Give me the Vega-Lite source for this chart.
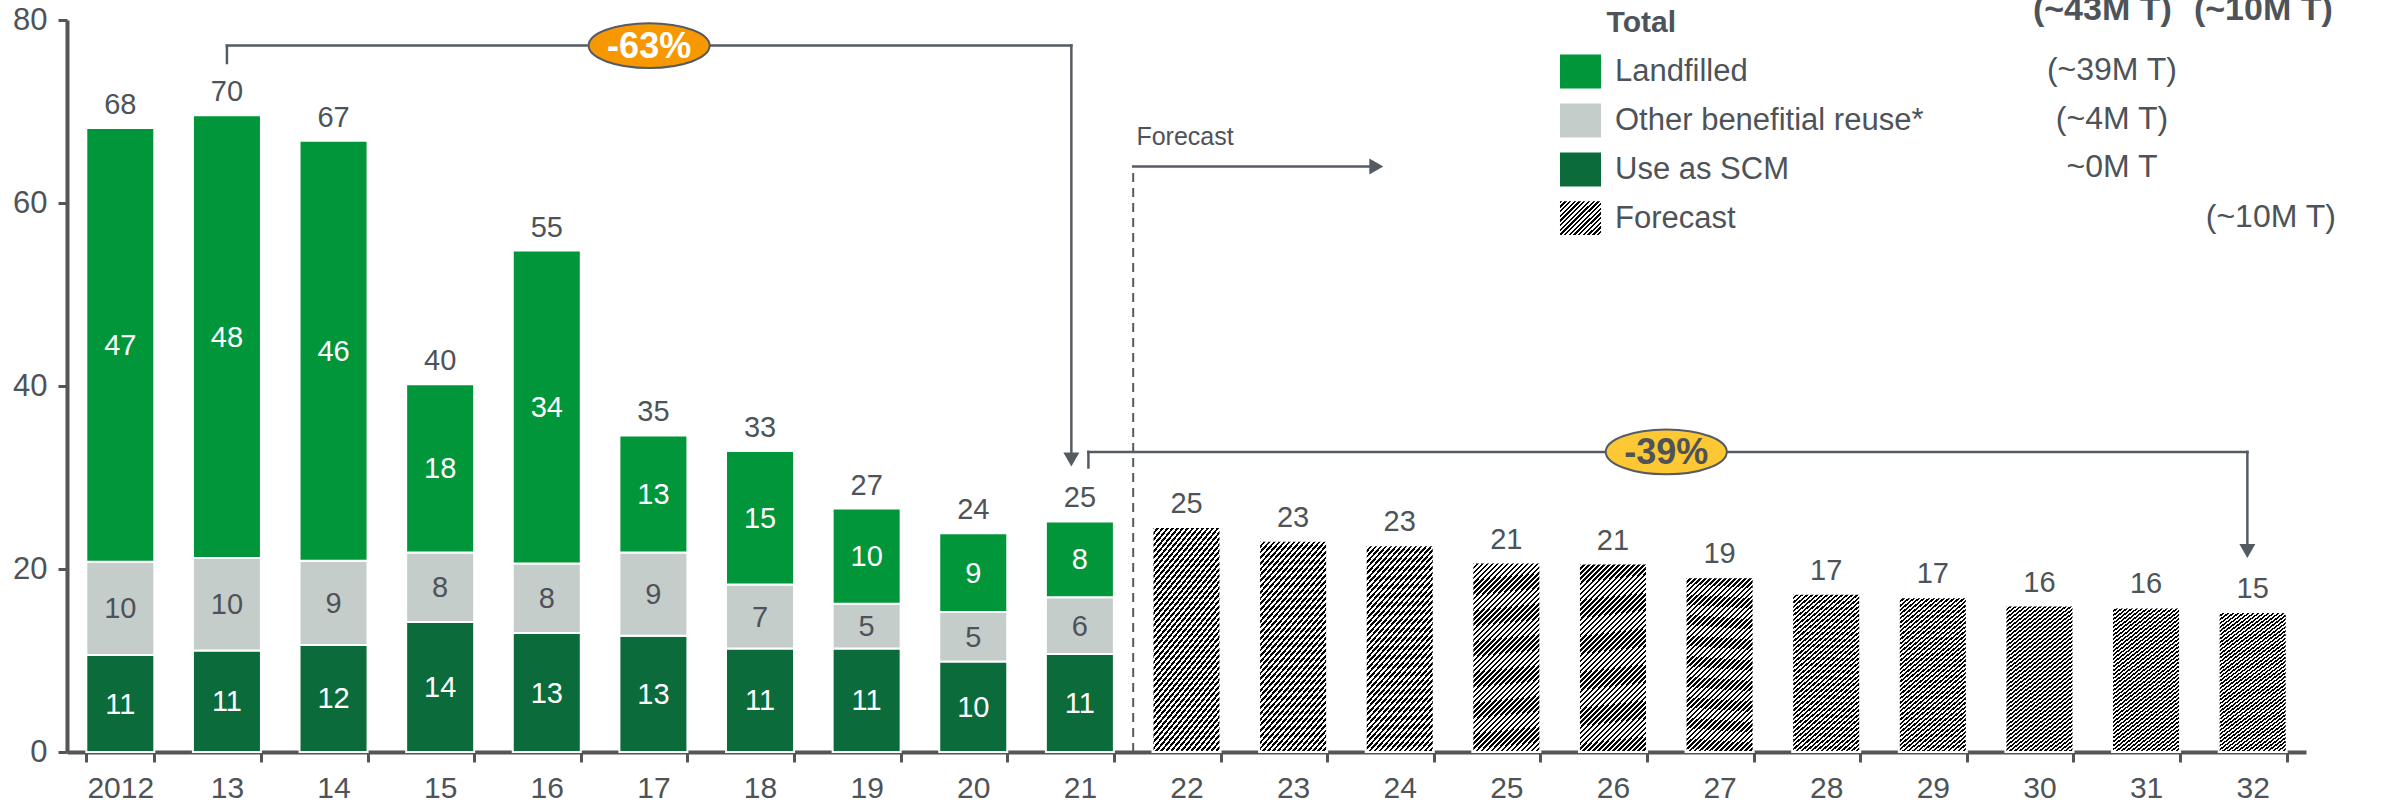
{
  "$schema": "https://vega.github.io/schema/vega-lite/v6.json",
  "width": 2239,
  "height": 732,
  "autosize": {"type": "none"},
  "padding": {"left": 67, "top": 20, "right": 76, "bottom": 60},
  "background": "white",
  "config": {"view": {"stroke": null}, "font": "Liberation Sans"},
  "datasets": {
    "parts": [
      {"year": "2012", "category": "Use as SCM", "value": 10.6},
      {"year": "2012", "category": "Other benefitial reuse*", "value": 10.2},
      {"year": "2012", "category": "Landfilled", "value": 47.4},
      {"year": "13", "category": "Use as SCM", "value": 11.1},
      {"year": "13", "category": "Other benefitial reuse*", "value": 10.1},
      {"year": "13", "category": "Landfilled", "value": 48.4},
      {"year": "14", "category": "Use as SCM", "value": 11.7},
      {"year": "14", "category": "Other benefitial reuse*", "value": 9.2},
      {"year": "14", "category": "Landfilled", "value": 45.9},
      {"year": "15", "category": "Use as SCM", "value": 14.2},
      {"year": "15", "category": "Other benefitial reuse*", "value": 7.6},
      {"year": "15", "category": "Landfilled", "value": 18.4},
      {"year": "16", "category": "Use as SCM", "value": 13.0},
      {"year": "16", "category": "Other benefitial reuse*", "value": 7.6},
      {"year": "16", "category": "Landfilled", "value": 34.2},
      {"year": "17", "category": "Use as SCM", "value": 12.7},
      {"year": "17", "category": "Other benefitial reuse*", "value": 9.1},
      {"year": "17", "category": "Landfilled", "value": 12.8},
      {"year": "18", "category": "Use as SCM", "value": 11.3},
      {"year": "18", "category": "Other benefitial reuse*", "value": 7.0},
      {"year": "18", "category": "Landfilled", "value": 14.6},
      {"year": "19", "category": "Use as SCM", "value": 11.3},
      {"year": "19", "category": "Other benefitial reuse*", "value": 4.9},
      {"year": "19", "category": "Landfilled", "value": 10.4},
      {"year": "20", "category": "Use as SCM", "value": 9.9},
      {"year": "20", "category": "Other benefitial reuse*", "value": 5.4},
      {"year": "20", "category": "Landfilled", "value": 8.6},
      {"year": "21", "category": "Use as SCM", "value": 10.7},
      {"year": "21", "category": "Other benefitial reuse*", "value": 6.2},
      {"year": "21", "category": "Landfilled", "value": 8.3},
      {"year": "22", "category": "Forecast", "value": 24.6},
      {"year": "23", "category": "Forecast", "value": 23.1},
      {"year": "24", "category": "Forecast", "value": 22.6},
      {"year": "25", "category": "Forecast", "value": 20.7},
      {"year": "26", "category": "Forecast", "value": 20.6},
      {"year": "27", "category": "Forecast", "value": 19.1},
      {"year": "28", "category": "Forecast", "value": 17.3},
      {"year": "29", "category": "Forecast", "value": 16.9},
      {"year": "30", "category": "Forecast", "value": 16.0},
      {"year": "31", "category": "Forecast", "value": 15.8},
      {"year": "32", "category": "Forecast", "value": 15.3}
    ],
    "segments": [
      {"x": 1.5, "x2": 1.5, "y": 75.3, "y2": 77.2},
      {"x": 1.5, "x2": 9.42, "y": 77.2, "y2": 77.2},
      {"x": 9.42, "x2": 9.42, "y": 77.2, "y2": 31.97},
      {"x": 9.58, "x2": 9.58, "y": 31.1, "y2": 32.8},
      {"x": 9.58, "x2": 20.45, "y": 32.8, "y2": 32.8},
      {"x": 20.45, "x2": 20.45, "y": 32.8, "y2": 21.97},
      {"x": 10, "x2": 12.28, "y": 64, "y2": 64}
    ],
    "divider": [{"x": 10, "y": 0, "y2": 64}],
    "heads": [
      {"x": 9.42, "y": 31.97, "dir": "down"},
      {"x": 20.45, "y": 21.97, "dir": "down"},
      {"x": 12.28, "y": 64, "dir": "right"}
    ],
    "badges": [
      {"x": 5.46, "y": 77.2, "label": "-63%"},
      {"x": 15.0, "y": 32.8, "label": "-39%"}
    ],
    "forecastNote": [{"x": 10.03, "y": 66.3, "text": "Forecast"}],
    "forecastKey": [{"x": 14.003, "x2": 14.388, "y": 56.5, "y2": 60.2}],
    "notes": [
      {"x": 19.18, "y": 74.54, "text": "(~39M T)"},
      {"x": 19.18, "y": 69.23, "text": "(~4M T)"},
      {"x": 19.18, "y": 63.93, "text": "~0M T"},
      {"x": 20.67, "y": 58.47, "text": "(~10M T)"}
    ],
    "header": [
      {"x": 19.09, "y": 80.0, "text": "(~43M T)"},
      {"x": 20.6, "y": 80.0, "text": "(~10M T)"}
    ],
    "totalTitle": [{"x": 14.44, "y": 78.7, "text": "Total"}]
  },
  "layer": [
    {
      "data": {"name": "parts"},
      "transform": [
        {"calculate": "indexof(['Use as SCM','Other benefitial reuse*','Landfilled','Forecast'], datum.category)", "as": "rank"},
        {"stack": "value", "groupby": ["year"], "sort": [{"field": "rank", "order": "ascending"}], "as": ["v0", "v1"]},
        {"calculate": "(datum.v0 + datum.v1) / 2", "as": "mid"}
      ],
      "encoding": {
        "x": {
          "field": "year", "type": "nominal",
          "scale": {"domain": ["2012","13","14","15","16","17","18","19","20","21","22","23","24","25","26","27","28","29","30","31","32"], "paddingInner": 0.362, "paddingOuter": 0.181},
          "axis": {"title": null, "orient": "bottom", "labelAngle": 0, "tickBand": "extent", "tickExtra": true, "tickOpacity": 1, "domainColor": "#555555", "domainWidth": 4, "ticks": true, "tickColor": "#555555", "tickWidth": 3, "tickSize": 10, "labelFontSize": 30, "labelColor": "#4d5358", "labelPadding": 11, "labelFont": "Liberation Sans"}
        }
      },
      "layer": [
        {
          "mark": {"type": "bar", "stroke": "white", "strokeWidth": 2},
          "encoding": {
            "y": {"field": "v0", "type": "quantitative", "scale": {"domain": [0, 80], "nice": false},
              "axis": {"title": null, "orient": "left", "values": [0, 20, 40, 60, 80], "grid": false, "domainColor": "#555555", "domainWidth": 4, "ticks": true, "tickColor": "#555555", "tickWidth": 3, "tickSize": 9, "labelFontSize": 31, "labelColor": "#4d5358", "labelPadding": 11, "labelFont": "Liberation Sans"}},
            "y2": {"field": "v1"},
            "color": {
              "condition": {"test": "datum.category === 'Forecast'", "value": {"gradient": "linear", "x1": 0, "y1": 0, "x2": 0.444, "y2": 1.2, "stops": [
                {"offset":0,"color":"#000"},
                {"offset":0.01,"color":"#000"},{"offset":0.01,"color":"#fff"},
                {"offset":0.02,"color":"#fff"},{"offset":0.02,"color":"#000"},
                {"offset":0.03,"color":"#000"},{"offset":0.03,"color":"#fff"},
                {"offset":0.04,"color":"#fff"},{"offset":0.04,"color":"#000"},
                {"offset":0.05,"color":"#000"},{"offset":0.05,"color":"#fff"},
                {"offset":0.06,"color":"#fff"},{"offset":0.06,"color":"#000"},
                {"offset":0.07,"color":"#000"},{"offset":0.07,"color":"#fff"},
                {"offset":0.08,"color":"#fff"},{"offset":0.08,"color":"#000"},
                {"offset":0.09,"color":"#000"},{"offset":0.09,"color":"#fff"},
                {"offset":0.1,"color":"#fff"},{"offset":0.1,"color":"#000"},
                {"offset":0.11,"color":"#000"},{"offset":0.11,"color":"#fff"},
                {"offset":0.12,"color":"#fff"},{"offset":0.12,"color":"#000"},
                {"offset":0.13,"color":"#000"},{"offset":0.13,"color":"#fff"},
                {"offset":0.14,"color":"#fff"},{"offset":0.14,"color":"#000"},
                {"offset":0.15,"color":"#000"},{"offset":0.15,"color":"#fff"},
                {"offset":0.16,"color":"#fff"},{"offset":0.16,"color":"#000"},
                {"offset":0.17,"color":"#000"},{"offset":0.17,"color":"#fff"},
                {"offset":0.18,"color":"#fff"},{"offset":0.18,"color":"#000"},
                {"offset":0.19,"color":"#000"},{"offset":0.19,"color":"#fff"},
                {"offset":0.2,"color":"#fff"},{"offset":0.2,"color":"#000"},
                {"offset":0.21,"color":"#000"},{"offset":0.21,"color":"#fff"},
                {"offset":0.22,"color":"#fff"},{"offset":0.22,"color":"#000"},
                {"offset":0.23,"color":"#000"},{"offset":0.23,"color":"#fff"},
                {"offset":0.24,"color":"#fff"},{"offset":0.24,"color":"#000"},
                {"offset":0.25,"color":"#000"},{"offset":0.25,"color":"#fff"},
                {"offset":0.26,"color":"#fff"},{"offset":0.26,"color":"#000"},
                {"offset":0.27,"color":"#000"},{"offset":0.27,"color":"#fff"},
                {"offset":0.28,"color":"#fff"},{"offset":0.28,"color":"#000"},
                {"offset":0.29,"color":"#000"},{"offset":0.29,"color":"#fff"},
                {"offset":0.3,"color":"#fff"},{"offset":0.3,"color":"#000"},
                {"offset":0.31,"color":"#000"},{"offset":0.31,"color":"#fff"},
                {"offset":0.32,"color":"#fff"},{"offset":0.32,"color":"#000"},
                {"offset":0.33,"color":"#000"},{"offset":0.33,"color":"#fff"},
                {"offset":0.34,"color":"#fff"},{"offset":0.34,"color":"#000"},
                {"offset":0.35,"color":"#000"},{"offset":0.35,"color":"#fff"},
                {"offset":0.36,"color":"#fff"},{"offset":0.36,"color":"#000"},
                {"offset":0.37,"color":"#000"},{"offset":0.37,"color":"#fff"},
                {"offset":0.38,"color":"#fff"},{"offset":0.38,"color":"#000"},
                {"offset":0.39,"color":"#000"},{"offset":0.39,"color":"#fff"},
                {"offset":0.4,"color":"#fff"},{"offset":0.4,"color":"#000"},
                {"offset":0.41,"color":"#000"},{"offset":0.41,"color":"#fff"},
                {"offset":0.42,"color":"#fff"},{"offset":0.42,"color":"#000"},
                {"offset":0.43,"color":"#000"},{"offset":0.43,"color":"#fff"},
                {"offset":0.44,"color":"#fff"},{"offset":0.44,"color":"#000"},
                {"offset":0.45,"color":"#000"},{"offset":0.45,"color":"#fff"},
                {"offset":0.46,"color":"#fff"},{"offset":0.46,"color":"#000"},
                {"offset":0.47,"color":"#000"},{"offset":0.47,"color":"#fff"},
                {"offset":0.48,"color":"#fff"},{"offset":0.48,"color":"#000"},
                {"offset":0.49,"color":"#000"},{"offset":0.49,"color":"#fff"},
                {"offset":0.5,"color":"#fff"},{"offset":0.5,"color":"#000"},
                {"offset":0.51,"color":"#000"},{"offset":0.51,"color":"#fff"},
                {"offset":0.52,"color":"#fff"},{"offset":0.52,"color":"#000"},
                {"offset":0.53,"color":"#000"},{"offset":0.53,"color":"#fff"},
                {"offset":0.54,"color":"#fff"},{"offset":0.54,"color":"#000"},
                {"offset":0.55,"color":"#000"},{"offset":0.55,"color":"#fff"},
                {"offset":0.56,"color":"#fff"},{"offset":0.56,"color":"#000"},
                {"offset":0.57,"color":"#000"},{"offset":0.57,"color":"#fff"},
                {"offset":0.58,"color":"#fff"},{"offset":0.58,"color":"#000"},
                {"offset":0.59,"color":"#000"},{"offset":0.59,"color":"#fff"},
                {"offset":0.6,"color":"#fff"},{"offset":0.6,"color":"#000"},
                {"offset":0.61,"color":"#000"},{"offset":0.61,"color":"#fff"},
                {"offset":0.62,"color":"#fff"},{"offset":0.62,"color":"#000"},
                {"offset":0.63,"color":"#000"},{"offset":0.63,"color":"#fff"},
                {"offset":0.64,"color":"#fff"},{"offset":0.64,"color":"#000"},
                {"offset":0.65,"color":"#000"},{"offset":0.65,"color":"#fff"},
                {"offset":0.66,"color":"#fff"},{"offset":0.66,"color":"#000"},
                {"offset":0.67,"color":"#000"},{"offset":0.67,"color":"#fff"},
                {"offset":0.68,"color":"#fff"},{"offset":0.68,"color":"#000"},
                {"offset":0.69,"color":"#000"},{"offset":0.69,"color":"#fff"},
                {"offset":0.7,"color":"#fff"},{"offset":0.7,"color":"#000"},
                {"offset":0.71,"color":"#000"},{"offset":0.71,"color":"#fff"},
                {"offset":0.72,"color":"#fff"},{"offset":0.72,"color":"#000"},
                {"offset":0.73,"color":"#000"},{"offset":0.73,"color":"#fff"},
                {"offset":0.74,"color":"#fff"},{"offset":0.74,"color":"#000"},
                {"offset":0.75,"color":"#000"},{"offset":0.75,"color":"#fff"},
                {"offset":0.76,"color":"#fff"},{"offset":0.76,"color":"#000"},
                {"offset":0.77,"color":"#000"},{"offset":0.77,"color":"#fff"},
                {"offset":0.78,"color":"#fff"},{"offset":0.78,"color":"#000"},
                {"offset":0.79,"color":"#000"},{"offset":0.79,"color":"#fff"},
                {"offset":0.8,"color":"#fff"},{"offset":0.8,"color":"#000"},
                {"offset":0.81,"color":"#000"},{"offset":0.81,"color":"#fff"},
                {"offset":0.82,"color":"#fff"},{"offset":0.82,"color":"#000"},
                {"offset":0.83,"color":"#000"},{"offset":0.83,"color":"#fff"},
                {"offset":0.84,"color":"#fff"},{"offset":0.84,"color":"#000"},
                {"offset":0.85,"color":"#000"},{"offset":0.85,"color":"#fff"},
                {"offset":0.86,"color":"#fff"},{"offset":0.86,"color":"#000"},
                {"offset":0.87,"color":"#000"},{"offset":0.87,"color":"#fff"},
                {"offset":0.88,"color":"#fff"},{"offset":0.88,"color":"#000"},
                {"offset":0.89,"color":"#000"},{"offset":0.89,"color":"#fff"},
                {"offset":0.9,"color":"#fff"},{"offset":0.9,"color":"#000"},
                {"offset":0.91,"color":"#000"},{"offset":0.91,"color":"#fff"},
                {"offset":0.92,"color":"#fff"},{"offset":0.92,"color":"#000"},
                {"offset":0.93,"color":"#000"},{"offset":0.93,"color":"#fff"},
                {"offset":0.94,"color":"#fff"},{"offset":0.94,"color":"#000"},
                {"offset":0.95,"color":"#000"},{"offset":0.95,"color":"#fff"},
                {"offset":0.96,"color":"#fff"},{"offset":0.96,"color":"#000"},
                {"offset":0.97,"color":"#000"},{"offset":0.97,"color":"#fff"},
                {"offset":0.98,"color":"#fff"},{"offset":0.98,"color":"#000"},
                {"offset":0.99,"color":"#000"},{"offset":0.99,"color":"#fff"},
                {"offset":1,"color":"#fff"}
              ]}},
              "field": "category", "type": "nominal",
              "scale": {"domain": ["Landfilled", "Other benefitial reuse*", "Use as SCM", "Forecast"], "range": ["#009639", "#c5cdca", "#0b6b3a", "transparent"]},
              "legend": {
                "orient": "none", "legendX": 1493, "legendY": 31, "title": null, "padding": 0,
                "symbolType": "M-1,-0.83H1V0.83H-1Z", "symbolSize": 1681, "symbolStrokeWidth": 0, "symbolOpacity": 1,
                "labelFontSize": 31, "labelColor": "#4d5358", "labelFont": "Liberation Sans", "labelOffset": 14, "labelLimit": 800,
                "rowPadding": 11
              }
            }
          }
        },
        {
          "transform": [{"filter": "datum.category !== 'Forecast'"}],
          "mark": {"type": "text", "fontSize": 29, "baseline": "middle", "dy": 1},
          "encoding": {
            "y": {"field": "mid", "type": "quantitative", "scale": {"domain": [0, 80], "nice": false},
              "axis": {"title": null, "orient": "left", "values": [0, 20, 40, 60, 80], "grid": false, "domainColor": "#555555", "domainWidth": 4, "ticks": true, "tickColor": "#555555", "tickWidth": 3, "tickSize": 9, "labelFontSize": 31, "labelColor": "#4d5358", "labelPadding": 11, "labelFont": "Liberation Sans"}},
            "text": {"field": "value", "type": "quantitative", "format": ".0f"},
            "color": {"condition": {"test": "datum.category === 'Other benefitial reuse*'", "value": "#4d5358"}, "value": "#ffffff"}
          }
        },
        {
          "transform": [{"aggregate": [{"op": "sum", "field": "value", "as": "total"}], "groupby": ["year"]}],
          "mark": {"type": "text", "fontSize": 29, "baseline": "alphabetic", "dy": -14, "color": "#4d5358"},
          "encoding": {
            "y": {"field": "total", "type": "quantitative", "scale": {"domain": [0, 80], "nice": false},
              "axis": {"title": null, "orient": "left", "values": [0, 20, 40, 60, 80], "grid": false, "domainColor": "#555555", "domainWidth": 4, "ticks": true, "tickColor": "#555555", "tickWidth": 3, "tickSize": 9, "labelFontSize": 31, "labelColor": "#4d5358", "labelPadding": 11, "labelFont": "Liberation Sans"}},
            "text": {"field": "total", "type": "quantitative", "format": ".0f"}
          }
        }
      ]
    },
    {
      "encoding": {
        "x": {"field": "x", "type": "quantitative", "scale": {"domain": [0, 21], "nice": false, "zero": false},
          "axis": {"orient": "top", "domain": false, "ticks": false, "labels": false, "grid": false, "title": null}},
        "y": {"field": "y", "type": "quantitative", "scale": {"domain": [0, 80], "nice": false},
          "axis": {"title": null, "orient": "left", "values": [0, 20, 40, 60, 80], "grid": false, "domainColor": "#555555", "domainWidth": 4, "ticks": true, "tickColor": "#555555", "tickWidth": 3, "tickSize": 9, "labelFontSize": 31, "labelColor": "#4d5358", "labelPadding": 11, "labelFont": "Liberation Sans"}}
      },
      "layer": [
        {
          "data": {"name": "divider"},
          "mark": {"type": "rule", "color": "#555b62", "strokeWidth": 2, "strokeDash": [9, 6]},
          "encoding": {"y2": {"field": "y2"}}
        },
        {
          "data": {"name": "segments"},
          "mark": {"type": "rule", "color": "#555b62", "strokeWidth": 2.5, "strokeCap": "square"},
          "encoding": {"x2": {"field": "x2"}, "y2": {"field": "y2"}}
        },
        {
          "data": {"name": "heads"},
          "mark": {"type": "point", "filled": true, "opacity": 1, "size": 256, "color": "#555b62", "strokeWidth": 0},
          "encoding": {
            "shape": {"condition": {"test": "datum.dir === 'right'", "value": "M-0.875,-1L0.875,0L-0.875,1Z"}, "value": "M-1,-0.875L1,-0.875L0,0.875Z"}
          }
        },
        {
          "data": {"name": "badges"},
          "mark": {"type": "point", "filled": true, "opacity": 1, "size": 14641, "stroke": "#555b62", "strokeWidth": 2,
            "shape": "M-1,0C-1,-0.204,-0.552,-0.37,0,-0.37C0.552,-0.37,1,-0.204,1,0C1,0.204,0.552,0.37,0,0.37C-0.552,0.37,-1,0.204,-1,0Z"},
          "encoding": {
            "fill": {"condition": {"test": "datum.label === '-63%'", "value": "#f89800"}, "value": "#fec834"}
          }
        },
        {
          "data": {"name": "badges"},
          "mark": {"type": "text", "fontSize": 36, "fontWeight": "bold", "baseline": "middle", "align": "center", "dy": 1},
          "encoding": {
            "text": {"field": "label"},
            "color": {"condition": {"test": "datum.label === '-63%'", "value": "#ffffff"}, "value": "#4d5358"}
          }
        },
        {
          "data": {"name": "forecastKey"},
          "mark": {"type": "rect", "fill": {"gradient": "linear", "x1": 0, "y1": 0, "x2": 1.083, "y2": 0.9, "stops": [
                    {"offset":0,"color":"#000"},
                    {"offset":0.03125,"color":"#000"},{"offset":0.03125,"color":"#fff"},
                    {"offset":0.0625,"color":"#fff"},{"offset":0.0625,"color":"#000"},
                    {"offset":0.09375,"color":"#000"},{"offset":0.09375,"color":"#fff"},
                    {"offset":0.125,"color":"#fff"},{"offset":0.125,"color":"#000"},
                    {"offset":0.15625,"color":"#000"},{"offset":0.15625,"color":"#fff"},
                    {"offset":0.1875,"color":"#fff"},{"offset":0.1875,"color":"#000"},
                    {"offset":0.21875,"color":"#000"},{"offset":0.21875,"color":"#fff"},
                    {"offset":0.25,"color":"#fff"},{"offset":0.25,"color":"#000"},
                    {"offset":0.28125,"color":"#000"},{"offset":0.28125,"color":"#fff"},
                    {"offset":0.3125,"color":"#fff"},{"offset":0.3125,"color":"#000"},
                    {"offset":0.34375,"color":"#000"},{"offset":0.34375,"color":"#fff"},
                    {"offset":0.375,"color":"#fff"},{"offset":0.375,"color":"#000"},
                    {"offset":0.40625,"color":"#000"},{"offset":0.40625,"color":"#fff"},
                    {"offset":0.4375,"color":"#fff"},{"offset":0.4375,"color":"#000"},
                    {"offset":0.46875,"color":"#000"},{"offset":0.46875,"color":"#fff"},
                    {"offset":0.5,"color":"#fff"},{"offset":0.5,"color":"#000"},
                    {"offset":0.53125,"color":"#000"},{"offset":0.53125,"color":"#fff"},
                    {"offset":0.5625,"color":"#fff"},{"offset":0.5625,"color":"#000"},
                    {"offset":0.59375,"color":"#000"},{"offset":0.59375,"color":"#fff"},
                    {"offset":0.625,"color":"#fff"},{"offset":0.625,"color":"#000"},
                    {"offset":0.65625,"color":"#000"},{"offset":0.65625,"color":"#fff"},
                    {"offset":0.6875,"color":"#fff"},{"offset":0.6875,"color":"#000"},
                    {"offset":0.71875,"color":"#000"},{"offset":0.71875,"color":"#fff"},
                    {"offset":0.75,"color":"#fff"},{"offset":0.75,"color":"#000"},
                    {"offset":0.78125,"color":"#000"},{"offset":0.78125,"color":"#fff"},
                    {"offset":0.8125,"color":"#fff"},{"offset":0.8125,"color":"#000"},
                    {"offset":0.84375,"color":"#000"},{"offset":0.84375,"color":"#fff"},
                    {"offset":0.875,"color":"#fff"},{"offset":0.875,"color":"#000"},
                    {"offset":0.90625,"color":"#000"},{"offset":0.90625,"color":"#fff"},
                    {"offset":0.9375,"color":"#fff"},{"offset":0.9375,"color":"#000"},
                    {"offset":0.96875,"color":"#000"},{"offset":0.96875,"color":"#fff"},
                    {"offset":1,"color":"#fff"}
                  ]}},
          "encoding": {"x2": {"field": "x2"}, "y2": {"field": "y2"}}
        },
        {
          "data": {"name": "forecastNote"},
          "mark": {"type": "text", "fontSize": 25, "baseline": "alphabetic", "align": "left", "color": "#4d5358"},
          "encoding": {"text": {"field": "text"}}
        },
        {
          "data": {"name": "notes"},
          "mark": {"type": "text", "fontSize": 32, "baseline": "middle", "align": "center", "color": "#4d5358"},
          "encoding": {"text": {"field": "text"}}
        },
        {
          "data": {"name": "header"},
          "mark": {"type": "text", "fontSize": 34, "fontWeight": "bold", "baseline": "alphabetic", "align": "center", "color": "#4d5358"},
          "encoding": {"text": {"field": "text"}}
        },
        {
          "data": {"name": "totalTitle"},
          "mark": {"type": "text", "fontSize": 30, "fontWeight": "bold", "baseline": "alphabetic", "align": "left", "color": "#4d5358"},
          "encoding": {"text": {"field": "text"}}
        }
      ]
    }
  ],
  "resolve": {"scale": {"x": "independent"}}
}
